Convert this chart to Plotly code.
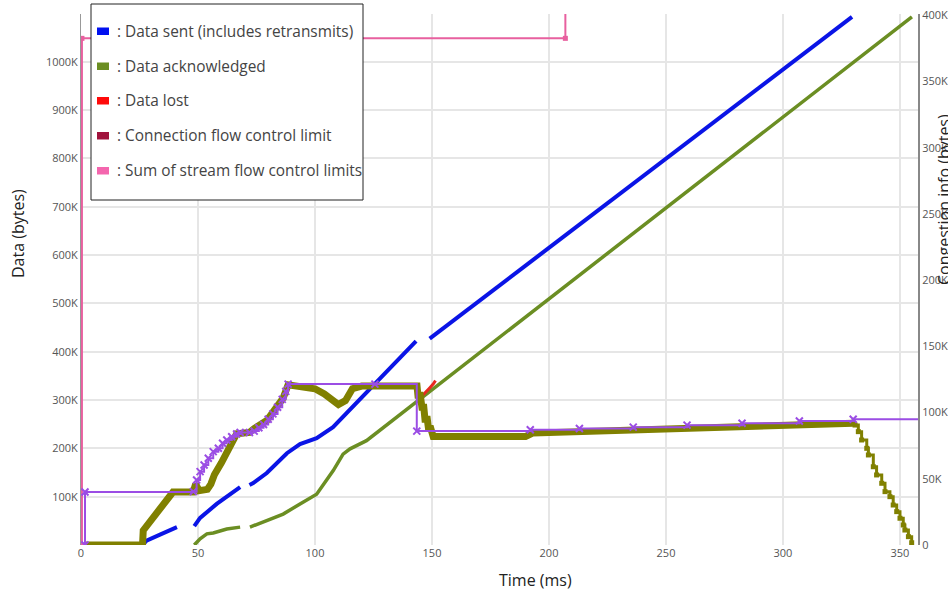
import plotly.graph_objects as go

# ---------------- data (time in ms, values in KB) ----------------
# Data sent (left axis) - segments separated by None
sent_t = [26.5, 28.0, 34.0, 41.0, None,
          48.4, 50.9, 58.0, 68.0, None,
          72.0, 73.6, 79.4, 88.0, 93.6, 100.7, 107.7, 115.0, 122.0, 129.0, 133.3, 143.2, None,
          149.0, 329.5]
sent_v = [1, 9, 22, 37, None,
          39, 56, 85, 120, None,
          124, 128, 149, 190, 209, 221, 244, 280, 315, 350, 372, 422, None,
          427, 1093]

# Data acknowledged (left axis)
acked_t = [48.4, 50.9, 53.8, 56.5, 62.3, 68.0, None,
           72.2, 79.4, 86.4, 93.6, 100.7, 107.8, 112.0, 115.0, 122.0, 355.1]
acked_v = [0, 13, 23, 25, 33, 37, None,
           37, 50, 64, 85, 105, 154, 188, 199, 216, 1093]

# Data lost (left axis)
lost_t = [144.5, 146.0, 147.5, 149.0, 150.5, 151.5]
lost_v = [302, 309, 317, 325, 333, 340]

# Sum of stream flow control limits (left axis)
stream_fc_t = [0.4, 0.4, 207.0, 207.0]
stream_fc_v = [0, 1048.6, 1048.6, 1400]

# Bytes in flight (right axis)
flight_t = [1.7, 25.2, 26.3, 26.6, 30.0, 35.0, 39.3, 47.9, 49.0, 50.5, 54.0, 55.5, 57.0, 60.0, 63.0,
            65.0, 66.5, 72.0, 74.0, 79.4, 83.0, 86.4, 88.5, 95.0, 100.0, 104.0, 107.0, 110.0,
            113.0, 116.0, 120.0, 130.0, 143.0, 143.6, 144.0, 145.0, 145.7, 146.5, 147.0, 148.0,
            148.5, 149.5, 150.5, 160.0, 175.0,
            190.0, 193.0, 213.0, 236.0, 259.0, 282.0, 307.0, 330.0]
flight_v = [0, 0, 0, 11, 19, 30, 40, 40, 46, 41, 42, 46, 53, 62, 72,
            78, 84, 85, 88, 94, 102, 111, 121, 120, 118, 114, 110, 106,
            109, 118, 120, 120, 120, 120, 113, 113, 104, 104, 95, 95,
            88, 88, 82, 82, 81.5,
            82, 84.5, 85.5, 86.5, 88, 89.5, 91, 92]

# Bytes in flight draining at the end (right axis, stepped)
drain_t = [330.0, 330.8, 332.2, 333.6, 335.8, 336.5, 338.6, 340.0, 342.2, 343.6, 345.7, 347.1,
           348.6, 350.0, 351.4, 352.1, 353.6, 355.0]
drain_v = [92, 90.6, 85.6, 79.3, 73.0, 68.0, 59.1, 52.9, 46.6, 40.3, 36.5, 30.2,
           25.2, 20.2, 15.1, 11.3, 6.3, 1.7]

# Congestion window (right axis)
cwnd_t = [1.7, 1.71, 48.0, 49.4, 50.9, 52.6, 54.4, 56.5, 58.7, 60.5, 62.3, 64.4, 66.5, 68.0,
          72.0, 74.0, 76.0, 78.0, 80.0, 82.0, 84.0, 86.0, 87.5, 88.5, 125.6, 143.5,
          192.0, 213.0, 236.0, 259.0, 282.5, 307.0, 330.0, 362.0]
cwnd_v = [0, 40, 40.3, 49.1, 55.4, 60.4, 65.5, 70.5, 73.0, 76.8, 79.3, 81.8, 83.8, 85,
          85, 86, 88.5, 91, 95, 99, 104, 110, 116, 121.5, 121.5, 86,
          87, 88, 89, 90.5, 92, 93.6, 95, 95]

# Legend
legend_names = ["Data sent (includes retransmits)", "Data acknowledged", "Data lost",
                "Connection flow control limit", "Sum of stream flow control limits"]
legend_colors = ["#0010f0", "#6b8e23", "#ff0a0a", "#a0123c", "#f466ae"]

left_ticks = [100, 200, 300, 400, 500, 600, 700, 800, 900, 1000]
right_ticks = [0, 50, 100, 150, 200, 250, 300, 350, 400]
x_ticks = [0, 50, 100, 150, 200, 250, 300, 350]

# ---------------- figure ----------------
W, H = 948, 590
ML, MR, MT, MB = 81, 30, 14, 45
PW, PH = W - ML - MR, H - MT - MB


def px(x):
    return (x - ML) / PW


def py(y):
    return (H - MB - y) / PH


fig = go.Figure()

fig.add_trace(go.Scatter(x=stream_fc_t, y=stream_fc_v, mode="lines+markers",
                         line=dict(color="#e8609f", width=2),
                         marker=dict(color="#e8609f", size=5, symbol="square"),
                         showlegend=False, yaxis="y"))
fig.add_trace(go.Scatter(x=sent_t, y=sent_v, mode="lines", connectgaps=False,
                         line=dict(color="#0a14e6", width=4),
                         showlegend=False, yaxis="y"))
fig.add_trace(go.Scatter(x=acked_t, y=acked_v, mode="lines", connectgaps=False,
                         line=dict(color="#6b8e23", width=3.5),
                         showlegend=False, yaxis="y"))
fig.add_trace(go.Scatter(x=lost_t, y=lost_v, mode="lines", line=dict(color="#e8281e", width=3),
                         showlegend=False, yaxis="y"))

fig.add_trace(go.Scatter(x=flight_t, y=flight_v, mode="lines",
                         line=dict(color="#808000", width=7),
                         showlegend=False, yaxis="y2"))
fig.add_trace(go.Scatter(x=drain_t, y=drain_v, mode="lines+markers",
                         line=dict(color="#808000", width=3, shape="hv"),
                         marker=dict(color="#808000", size=5, symbol="square"),
                         showlegend=False, yaxis="y2"))
fig.add_trace(go.Scatter(x=cwnd_t, y=cwnd_v, mode="lines+markers",
                         line=dict(color="#9b4de4", width=2, shape="hv"),
                         marker=dict(color="#9b4de4", size=7, symbol="x-thin",
                                     line=dict(color="#9b4de4", width=2)),
                         showlegend=False, yaxis="y2"))

# manual legend box
shapes = [dict(type="rect", xref="paper", yref="paper", x0=px(91), x1=px(363), y0=py(200), y1=py(4),
               fillcolor="white", line=dict(color="#222", width=1), layer="above")]
annotations = []
item_y = [31, 66, 100.5, 135.5, 170.5]
for name, col, yy in zip(legend_names, legend_colors, item_y):
    shapes.append(dict(type="rect", xref="paper", yref="paper", x0=px(97), x1=px(109),
                       y0=py(yy + 4), y1=py(yy - 3.5), fillcolor=col, line=dict(width=0), layer="above"))
    annotations.append(dict(xref="paper", yref="paper", x=px(115), y=py(yy), xanchor="left",
                            yanchor="middle", text=": " + name, showarrow=False,
                            font=dict(size=15.4, color="#444")))

# axis titles
annotations.append(dict(xref="paper", yref="paper", x=px(535.5), y=py(580), text="Time (ms)",
                        showarrow=False, font=dict(size=16, color="#222"),
                        xanchor="center", yanchor="middle"))
annotations.append(dict(xref="paper", yref="paper", x=px(18), y=py(234), text="Data (bytes)",
                        showarrow=False, textangle=-90, font=dict(size=16, color="#222"),
                        xanchor="center", yanchor="middle"))
annotations.append(dict(xref="paper", yref="paper", x=px(944), y=py(199),
                        text="Congestion info (bytes)", showarrow=False, textangle=-90,
                        font=dict(size=16, color="#222"), xanchor="center", yanchor="middle"))

fig.update_layout(
    width=W, height=H,
    margin=dict(l=ML, r=MR, t=MT, b=MB, autoexpand=False),
    paper_bgcolor="white", plot_bgcolor="white",
    font=dict(family="Open Sans, sans-serif"),
    showlegend=False,
    shapes=shapes, annotations=annotations,
    xaxis=dict(range=[0, 357.7], tickvals=x_ticks, ticktext=[str(v) for v in x_ticks],
               showgrid=True, gridcolor="#e6e6e6", gridwidth=1.5, zeroline=False,
               showline=False, ticks="", automargin=False,
               tickfont=dict(size=11, color="#555")),
    yaxis=dict(range=[0, 1099], tickvals=left_ticks, ticktext=[f"{v}K" for v in left_ticks],
               showgrid=True, gridcolor="#e6e6e6", gridwidth=1.5, zeroline=False,
               showline=True, linecolor="#999", linewidth=1, ticks="", automargin=False,
               tickfont=dict(size=11, color="#555")),
    yaxis2=dict(range=[0, 401], overlaying="y", side="right", tickvals=right_ticks,
                ticktext=["0"] + [f"{v}K" for v in right_ticks[1:]],
                showgrid=False, zeroline=False, showline=True, linecolor="#888", linewidth=2,
                ticks="", automargin=False, tickfont=dict(size=11, color="#555")),
)

fig.write_html("out.html", config={"displayModeBar": False},
               post_script="document.body.style.margin='0px';document.body.style.overflow='hidden';")
